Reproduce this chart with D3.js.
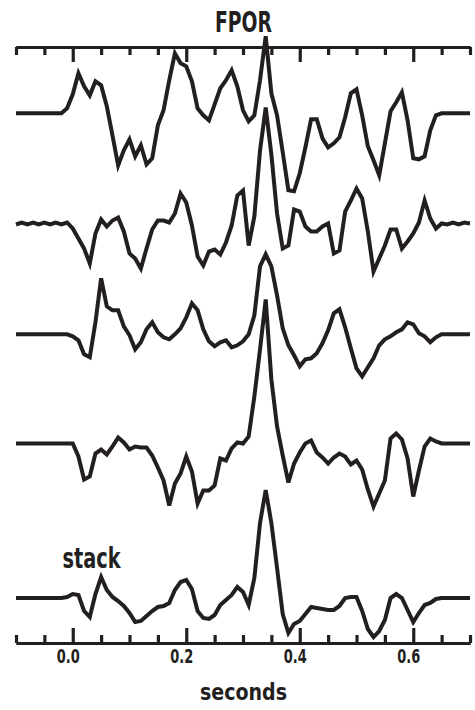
<!DOCTYPE html>
<html>
<head>
<meta charset="utf-8">
<script src="https://cdn.jsdelivr.net/npm/d3@7"></script>
<style>
  body { margin: 0; background: #fff; }
  text { font-family: "Liberation Sans Narrow", "DejaVu Sans Condensed", "Liberation Sans", Arial, sans-serif; font-weight: bold; fill: #231f20; }
</style>
</head>
<body>
<svg id="chart" width="475" height="710"></svg>
<script>
// Sampling of every record: first sample time and step (seconds)
const startTime = -0.1;
const sampleStep = 0.01;

// Records, top to bottom; amplitudes in arbitrary units
const trace1 = [0,0,0,0,0,0,0,0,0, 0.5,
  1.9, 4.0, 2.7, 1.8, 3.2, 2.8, 0.7, -2.2, -5.2, -3.7,
  -2.6, -4.3, -3.2, -5.1, -4.5, -1.2, 0.3, 3.3, 6.0, 5.0,
  4.7, 3.2, 0.5, -0.2, -0.7, 0.9, 2.5, 3.3, 4.3, 2.7,
  0.3, -0.8, -0.2, 3.3, 7.7, 2.0, -0.2, -3.9, -7.7, -7.8,
  -6.0, -3.4, -0.6, -0.6, -2.5, -3.4, -3.0, -2.4, -0.4, 2.0,
  2.4, -0.2, -3.3, -4.7, -6.2, -3.0, 0.2, 1.1, 2.1, -0.7,
  -4.5, -4.6, -4.3, -1.7, -0.2, 0, 0, 0, 0, 0,
  0];
const trace2 = [-0.1, 0.1, -0.1, 0.1, -0.1, 0.1, -0.1, 0.1, -0.1, 0.1,
  -0.5, -1.5, -2.5, -4.0, -1.0, 0.4, -0.3, 0.3, 0.6, -0.8,
  -3.0, -3.5, -4.5, -2.5, -0.6, 0.3, 0.3, 0.1, 1.0, 3.0,
  2.1, -0.2, -3.3, -4.2, -2.8, -2.6, -3.1, -1.9, -0.2, 2.8,
  3.3, -2.2, 0.7, 7.3, 11.6, 6.9, 1.0, -2.5, -2.2, 1.4,
  1.2, -0.3, -0.8, -0.8, -0.3, 0.0, -3.0, -2.7, 1.2, 2.3,
  3.5, 2.5, -0.8, -4.8, -3.5, -2.2, -0.6, -0.6, -2.5, -1.8,
  -1.0, 0.1, 2.3, 0.5, -0.5, 0.0, -0.1, 0.1, -0.1, 0.1,
  0.0];
const trace3 = [0,0,0,0,0,0,0,0,0, 0.0,
  -0.2, -0.6, -2.0, -2.3, 1.2, 5.6, 2.8, 2.4, 2.4, 0.8,
  -0.1, -1.5, -0.8, 0.5, 1.2, 0.2, -0.3, -0.5, 0.0, 0.6,
  1.7, 3.1, 2.4, 0.5, -0.7, -1.2, -0.8, -0.6, -1.3, -1.1,
  -0.7, 0.0, 1.9, 6.8, 8.0, 6.8, 3.9, 0.6, -1.1, -2.1,
  -3.2, -2.5, -2.4, -1.9, -0.9, 0.4, 2.1, 2.5, 0.7, -1.4,
  -3.4, -4.2, -3.3, -2.4, -1.1, -0.5, -0.2, 0.2, 0.5, 1.2,
  1.0, 0.1, -0.2, -0.8, -0.3, 0, 0, 0, 0, 0,
  0];
const trace4 = [0,0,0,0,0,0,0,0,0, 0,
  0, -1.3, -3.6, -3.3, -1.0, -0.6, -1.1, -0.3, 0.6, 0.1,
  -0.6, -0.3, -0.4, -0.4, -1.2, -2.4, -3.7, -6.2, -4.0, -3.0,
  -1.3, -2.8, -6.0, -4.7, -4.7, -4.2, -1.5, -1.7, -0.5, 0.1,
  0.0, 0.7, 4.7, 9.4, 14.4, 6.4, 1.7, -1.2, -3.9, -2.0,
  -0.9, 0.0, 0.3, -0.9, -1.4, -2.0, -1.4, -1.0, -1.3, -2.1,
  -1.7, -2.6, -4.6, -6.3, -5.0, -3.7, 0.5, 1.0, 0.4, -1.5,
  -5.3, -2.7, -0.3, 0.5, 0.2, 0.0, 0, 0, 0, 0,
  0];
const stack = [0,0,0,0,0,0,0,0,0, 0.1,
  0.4, 0.3, -1.3, -1.9, 0.4, 2.1, 0.8, 0.1, -0.3, -0.8,
  -1.5, -2.4, -2.3, -1.8, -1.3, -0.9, -0.8, -0.5, 0.8, 1.6,
  1.8, 0.9, -1.3, -2.0, -2.1, -1.7, -0.7, -0.2, 0.3, 1.1,
  0.6, -0.7, 2.0, 7.5, 10.8, 7.5, 3.0, -1.6, -3.5, -2.6,
  -2.3, -1.6, -0.9, -1.0, -1.1, -1.2, -1.2, -0.8, 0.0, 0.1,
  0.1, -1.3, -3.1, -3.9, -3.3, -2.2, 0.0, 0.4, 0.0, -1.2,
  -2.4, -1.5, -0.7, -0.5, -0.1, 0, 0, 0, 0, 0,
  0];

const records = [trace1, trace2, trace3, trace4, stack];
// Zero line of each record, measured downward from the top frame line
const recordOffsets = [6.63, 17.65, 28.73, 39.65, 55.1];

const majorTicks = [0, 0.2, 0.4, 0.6];
const majorTickLabels = ["0.0", "0.2", "0.4", "0.6"];
const minorTicks = [-0.1, -0.05, 0.05, 0.1, 0.15, 0.25, 0.3, 0.35, 0.45, 0.5, 0.55, 0.65, 0.7];

const titleText = "FPOR";
const stackLabel = "stack";
const xTitle = "seconds";

const ink = "#231f20";
const svg = d3.select("#chart");

const x = d3.scaleLinear().domain([-0.1, 0.7]).range([16, 470]);
const y = d3.scaleLinear().domain([0, 59.6]).range([47, 643]);

const topY = y(0), bottomY = y(59.6);

function styleAxis(g) {
  g.select(".domain").attr("stroke", ink).attr("stroke-width", 3.2);
  g.selectAll(".tick line").attr("stroke", ink).attr("stroke-width", 3.2);
}

// Top frame: ticks hang down, no labels
svg.append("g").attr("transform", `translate(0,${topY})`)
  .call(d3.axisBottom(x).tickValues(minorTicks).tickSize(8).tickSizeOuter(0).tickFormat(""))
  .call(styleAxis);
svg.append("g").attr("transform", `translate(0,${topY})`)
  .call(d3.axisBottom(x).tickValues(majorTicks).tickSize(15).tickSizeOuter(0).tickFormat(""))
  .call(styleAxis);

// Bottom frame: ticks point up, labels below
svg.append("g").attr("transform", `translate(0,${bottomY})`)
  .call(d3.axisBottom(x).tickValues(minorTicks).tickSize(-8).tickSizeOuter(0).tickFormat(""))
  .call(styleAxis);
const bottomMajor = svg.append("g").attr("transform", `translate(0,${bottomY})`)
  .call(d3.axisBottom(x).tickValues(majorTicks).tickSize(-15).tickSizeOuter(0).tickPadding(7)
    .tickFormat((d, i) => majorTickLabels[i]))
  .call(styleAxis);
bottomMajor.attr("font-family", null).attr("font-size", null);
bottomMajor.selectAll(".tick text")
  .style("font-size", "19px")
  .attr("dx", -5)
  .attr("textLength", 23).attr("lengthAdjust", "spacingAndGlyphs");

// Records
const line = d3.line()
  .x((d, i) => x(startTime + i * sampleStep))
  .y(d => d);

svg.append("g").selectAll("path").data(records).join("path")
  .attr("d", (rec, r) => line(rec.map(v => y(recordOffsets[r] - v))))
  .attr("fill", "none")
  .attr("stroke", ink)
  .attr("stroke-width", 4)
  .attr("stroke-linejoin", "miter")
  .attr("stroke-miterlimit", 4);

// Labels
svg.append("text").attr("x", 243.5).attr("y", 31.5).attr("text-anchor", "middle")
  .style("font-size", "29px").attr("textLength", 57).attr("lengthAdjust", "spacingAndGlyphs")
  .text(titleText);
svg.append("text").attr("x", 62.5).attr("y", 568).attr("text-anchor", "start")
  .style("font-size", "29px").attr("textLength", 58).attr("lengthAdjust", "spacingAndGlyphs")
  .text(stackLabel);
svg.append("text").attr("x", 243.5).attr("y", 700).attr("text-anchor", "middle")
  .style("font-size", "23px").attr("textLength", 87).attr("lengthAdjust", "spacingAndGlyphs")
  .text(xTitle);
</script>
</body>
</html>
